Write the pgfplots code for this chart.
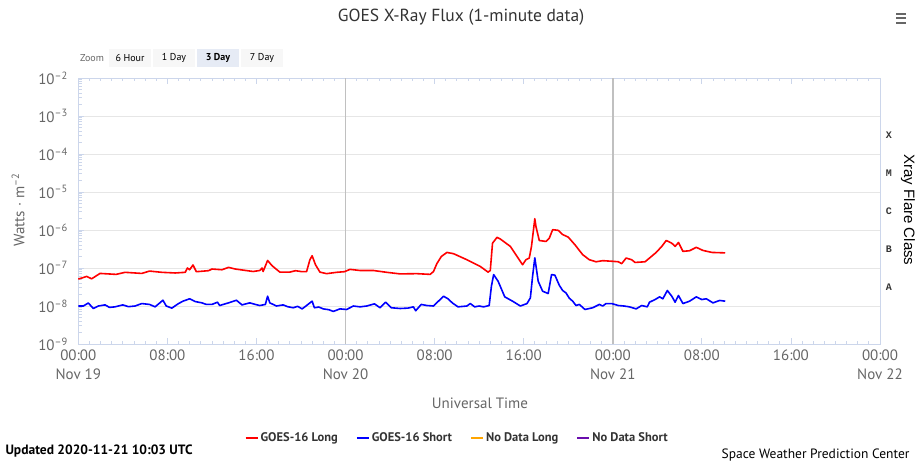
\documentclass[border=0pt]{standalone}
\usepackage{fontspec}
\setmainfont{PT Sans}
\newfontfamily\monof{Liberation Mono}
\newfontfamily\arialf{Liberation Sans}
\usepackage{pgfplots}
\pgfplotsset{compat=1.18}
\usepackage{pgfplotstable}
\definecolor{txtgray}{HTML}{666666}
\definecolor{axisline}{HTML}{CCD6EB}
\definecolor{gridc}{HTML}{E6E6E6}
\definecolor{vline}{HTML}{C0C0C0}
\definecolor{longc}{HTML}{FF0000}
\definecolor{shortc}{HTML}{0000FF}
\definecolor{ndlong}{HTML}{FFA500}
\definecolor{ndshort}{HTML}{6A0DAD}
\definecolor{titlec}{HTML}{333333}
\definecolor{btn}{HTML}{F7F7F7}
\definecolor{btnsel}{HTML}{E6EBF5}

\pgfplotstableread{
h v
0 5.1e-8
0.75 6.0e-8
1.2 5.2e-8
1.95 7.2e-8
3.4 6.8e-8
4.2 7.7e-8
5.7 7.2e-8
6.4 8.3e-8
7.5 7.7e-8
8.7 7.4e-8
9.6 7.7e-8
9.8 1.0e-7
10.0 9.0e-8
10.3 1.2e-7
10.6 8.0e-8
11.7 8.5e-8
12.0 9.4e-8
12.9 9.0e-8
13.5 1.04e-7
14.1 9.4e-8
14.8 8.8e-8
15.7 8.1e-8
16.3 8.6e-8
16.5 1.0e-7
16.6 8.1e-8
17.0 1.58e-7
17.4 1.15e-7
18.1 7.8e-8
19.0 7.8e-8
19.5 8.5e-8
20.1 8.0e-8
20.5 8.0e-8
20.8 1.65e-7
21.0 2.1e-7
21.3 1.22e-7
21.7 7.8e-8
22.3 7.1e-8
23.2 7.7e-8
23.9 8.0e-8
24.4 9.2e-8
25.3 8.6e-8
26.5 8.6e-8
27.7 7.7e-8
28.9 7.0e-8
30.4 7.1e-8
31.6 6.8e-8
31.9 8.1e-8
32.2 1.3e-7
32.6 2.0e-7
33.1 2.57e-7
33.7 2.38e-7
34.9 1.65e-7
36.1 1.1e-7
36.8 7.8e-8
37.0 8.6e-8
37.2 4.5e-7
37.6 6.4e-7
37.9 5.8e-7
38.8 3.7e-7
39.9 1.22e-7
40.2 1.65e-7
40.5 1.83e-7
40.7 3.7e-7
41.0 1.98e-6
41.1 1.24e-6
41.4 5.3e-7
42.0 5.0e-7
42.3 6.1e-7
42.6 1.02e-6
43.1 9.8e-7
43.5 7.6e-7
44.0 6.5e-7
44.6 4.1e-7
45.3 2.24e-7
45.9 1.65e-7
46.5 1.46e-7
47.1 1.56e-7
48.0 1.5e-7
48.5 1.46e-7
48.8 1.3e-7
49.2 1.83e-7
49.7 1.65e-7
50.0 1.4e-7
50.9 1.46e-7
51.3 1.83e-7
51.9 2.57e-7
52.4 3.7e-7
52.8 5.3e-7
53.3 4.5e-7
53.6 3.7e-7
53.9 4.7e-7
54.3 2.74e-7
54.9 2.85e-7
55.5 3.5e-7
56.1 2.9e-7
56.9 2.57e-7
58.1 2.5e-7
}\longtab

\pgfplotstableread{
h v
0 1.0e-8
0.45 1.0e-8
0.9 1.2e-8
1.35 8.6e-9
1.8 1.0e-8
2.4 1.07e-8
2.8 9.2e-9
3.3 9.5e-9
4.0 1.07e-8
4.5 9.6e-9
5.1 1.0e-8
5.7 1.16e-8
6.4 1.1e-8
6.9 9.5e-9
7.6 1.42e-8
7.9 1.0e-8
8.4 8.8e-9
9.0 1.16e-8
9.4 1.34e-8
10.0 1.55e-8
10.5 1.31e-8
11.1 1.21e-8
11.5 1.1e-8
12.0 1.1e-8
12.5 1.26e-8
12.7 1.03e-8
13.1 1.12e-8
13.5 1.21e-8
14.2 1.42e-8
14.7 1.07e-8
15.4 1.21e-8
15.9 1.1e-8
16.3 1.03e-8
16.8 1.1e-8
17.0 1.81e-8
17.2 1.21e-8
17.8 1.0e-8
18.4 1.07e-8
18.8 9.6e-9
19.3 9.0e-9
19.7 9.8e-9
20.1 8.4e-9
20.5 1.03e-8
21.0 1.34e-8
21.2 9.0e-9
21.6 9.4e-9
22.0 8.4e-9
22.5 8.0e-9
22.9 7.2e-9
23.5 8.4e-9
24.1 8.1e-9
24.7 1.0e-8
25.3 9.5e-9
25.9 1.0e-8
26.6 1.14e-8
27.1 9.0e-9
27.6 1.26e-8
28.1 9.0e-9
28.9 8.6e-9
29.6 8.8e-9
30.1 9.5e-9
30.3 7.5e-9
30.8 1.1e-8
31.3 1.03e-8
31.9 1.0e-8
32.8 1.81e-8
33.2 1.55e-8
33.6 1.2e-8
34.1 9.5e-9
34.9 1.0e-8
35.2 1.16e-8
35.6 9.5e-9
36.0 1.0e-8
36.4 9.5e-9
36.9 1.03e-8
37.1 3.3e-8
37.3 6.7e-8
37.7 4.5e-8
38.3 1.74e-8
39.0 1.34e-8
39.7 1.0e-8
40.3 1.16e-8
40.6 1.64e-8
40.8 6.1e-8
41.0 1.85e-7
41.3 4.5e-8
41.7 2.45e-8
42.2 2.13e-8
42.5 6.7e-8
42.8 6.5e-8
43.2 3.5e-8
43.5 2.56e-8
43.8 2.2e-8
44.1 1.6e-8
44.4 1.34e-8
44.7 1.03e-8
45.0 1.1e-8
45.5 8.1e-9
46.2 9.0e-9
46.8 1.1e-8
47.1 1.0e-8
47.4 1.16e-8
47.9 1.16e-8
48.5 1.03e-8
49.0 1.0e-8
49.5 9.5e-9
50.1 8.4e-9
50.6 1.03e-8
51.1 9.5e-9
51.3 1.26e-8
51.8 1.48e-8
52.2 1.74e-8
52.5 1.55e-8
52.9 2.56e-8
53.3 1.81e-8
53.6 1.26e-8
53.9 1.89e-8
54.3 1.16e-8
54.9 1.34e-8
55.5 1.74e-8
56.0 1.48e-8
56.4 1.55e-8
57.0 1.21e-8
57.6 1.4e-8
58.1 1.34e-8
}\shorttab

\begin{document}
\begin{tikzpicture}
\useasboundingbox (0,0) rectangle (923pt,469pt);
\begin{axis}[
  at={(78.3pt,125pt)}, anchor=south west,
  scale only axis, width=801.7pt, height=266pt,
  xmin=0, xmax=72, ymin=1e-9, ymax=1e-2,
  ymode=log,
  clip=false,
  axis line style={draw=axisline, line width=0.8pt},
  xtick={0,8,16,24,32,40,48,56,64,72},
  xticklabels={{00:00\\Nov 19},08:00,16:00,{00:00\\Nov 20},08:00,16:00,{00:00\\Nov 21},08:00,16:00,{00:00\\Nov 22}},
  xticklabel style={align=center, text=txtgray, font=\fontsize{15}{19}\selectfont, yshift=-2pt},
  minor x tick num=7,
  xtick pos=both, xticklabel pos=lower,
  ytick={1e-9,1e-8,1e-7,1e-6,1e-5,1e-4,1e-3,1e-2},
  minor ytick={2e-9,3e-9,4e-9,5e-9,6e-9,7e-9,8e-9,9e-9,
    2e-8,3e-8,4e-8,5e-8,6e-8,7e-8,8e-8,9e-8,
    2e-7,3e-7,4e-7,5e-7,6e-7,7e-7,8e-7,9e-7,
    2e-6,3e-6,4e-6,5e-6,6e-6,7e-6,8e-6,9e-6,
    2e-5,3e-5,4e-5,5e-5,6e-5,7e-5,8e-5,9e-5,
    2e-4,3e-4,4e-4,5e-4,6e-4,7e-4,8e-4,9e-4,
    2e-3,3e-3,4e-3,5e-3,6e-3,7e-3,8e-3,9e-3},
  yticklabels={10\textsuperscript{\textendash9},10\textsuperscript{\textendash8},10\textsuperscript{\textendash7},10\textsuperscript{\textendash6},10\textsuperscript{\textendash5},10\textsuperscript{\textendash4},10\textsuperscript{\textendash3},10\textsuperscript{\textendash2}},
  yticklabel style={text=txtgray, font=\fontsize{15}{17}\selectfont, xshift=-7pt},
  ytick pos=left,
  tick align=inside,
  major tick length=6pt, minor tick length=3.5pt,
  every tick/.style={draw=axisline, line width=0.8pt},
  ymajorgrids, major grid style={draw=gridc, line width=0.9pt},
  extra x ticks={24,48}, extra x tick labels={},
  extra x tick style={grid=major, major grid style={draw=vline, line width=1.6pt}, major tick length=0pt},
  legend style={draw=none, fill=none, at={(0.4726,-0.353)}, anchor=center,
    font=\bfseries\fontsize{12.5}{14}\selectfont, text=titlec,
    /tikz/every even column/.append style={column sep=16pt}},
  legend columns=4,
  legend image code/.code={\draw[#1, line width=2pt] (0pt,0pt)--(12pt,0pt);},
]
\addplot[longc, line width=1.6pt, no marks, line join=round] table[x=h,y=v]{\longtab};
\addlegendentry{GOES-16 Long}
\addplot[shortc, line width=1.6pt, no marks, line join=round] table[x=h,y=v]{\shorttab};
\addlegendentry{GOES-16 Short}
\addlegendimage{ndlong, line width=2pt}
\addlegendentry{No Data Long}
\addlegendimage{ndshort, line width=2pt}
\addlegendentry{No Data Short}
\node[font=\monof\bfseries\fontsize{10}{12}\selectfont, text=titlec] at (axis cs:72.8,3.16e-4) {X};
\node[font=\monof\bfseries\fontsize{10}{12}\selectfont, text=titlec] at (axis cs:72.8,3.16e-5) {M};
\node[font=\monof\bfseries\fontsize{10}{12}\selectfont, text=titlec] at (axis cs:72.8,3.16e-6) {C};
\node[font=\monof\bfseries\fontsize{10}{12}\selectfont, text=titlec] at (axis cs:72.8,3.16e-7) {B};
\node[font=\monof\bfseries\fontsize{10}{12}\selectfont, text=titlec] at (axis cs:72.8,3.16e-8) {A};
\end{axis}
% titles and labels
\node[font=\fontsize{17.5}{20}\selectfont, text=titlec] at (461pt,452pt) {GOES X-Ray Flux (1-minute data)};
\node[font=\fontsize{15}{18}\selectfont, text=txtgray] at (480pt,66pt) {Universal Time};
\node[font=\fontsize{15}{18}\selectfont, text=txtgray, rotate=90] at (18pt,259pt) {Watts · m\textsuperscript{\textendash2}};
\node[font=\arialf\fontsize{15}{18}\selectfont, text=black, rotate=-90] at (908pt,259pt) {Xray Flare Class};
% zoom buttons
\node[font=\fontsize{10}{12}\selectfont, text=txtgray] at (92pt,411pt) {Zoom};
\node[fill=btn, minimum width=42pt, minimum height=18pt, font=\fontsize{10}{12}\selectfont] at (130pt,411pt) {6 Hour};
\node[fill=btn, minimum width=42pt, minimum height=18pt, font=\fontsize{10}{12}\selectfont] at (174pt,411pt) {1 Day};
\node[fill=btnsel, minimum width=42pt, minimum height=18pt, font=\bfseries\fontsize{10}{12}\selectfont] at (218pt,411pt) {3 Day};
\node[fill=btn, minimum width=42pt, minimum height=18pt, font=\fontsize{10}{12}\selectfont] at (262pt,411pt) {7 Day};
% menu icon
\draw[txtgray, line width=2pt] (896pt,455pt) -- (906pt,455pt);
\draw[txtgray, line width=2pt] (896pt,450.5pt) -- (906pt,450.5pt);
\draw[txtgray, line width=2pt] (896pt,446pt) -- (906pt,446pt);
% footer
\node[anchor=west, font=\bfseries\fontsize{13.5}{15}\selectfont] at (2pt,18pt) {Updated 2020-11-21 10:03 UTC};
\node[anchor=east, font=\fontsize{13.5}{15}\selectfont] at (913pt,14pt) {Space Weather Prediction Center};
\end{tikzpicture}
\end{document}
